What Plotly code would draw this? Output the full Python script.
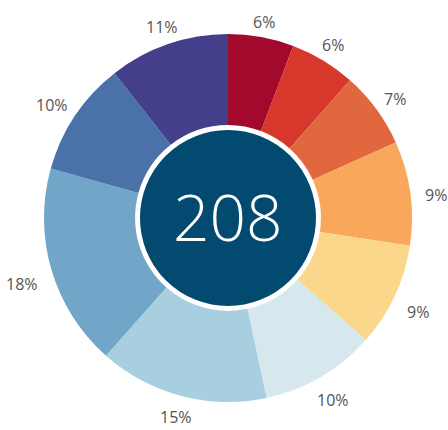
import math
import plotly.graph_objects as go

categories = ["A", "B", "C", "D", "E", "F", "G", "H", "I", "J"]
counts = [12, 12, 14, 19, 19, 21, 31, 37, 21, 22]
labels_text = ["6%", "6%", "7%", "9%", "9%", "10%", "15%", "18%", "10%", "11%"]
colors = ["#a2092c", "#d8372b", "#e1673f", "#f9a85b", "#fad78b",
          "#d6e7ee", "#a7cfdf", "#71a6c9", "#4a72a8", "#443f8a"]
total = "208"

# figure geometry
W, H = 448, 430
ML, MR, MT, MB = 44, 36, 34, 28
PLOT = 368
R_OUT = PLOT / 2

fig = go.Figure(go.Pie(
    labels=categories,
    values=counts,
    textinfo="none",
    sort=False,
    direction="clockwise",
    rotation=0,
    hole=0.505,
    marker=dict(colors=colors, line=dict(width=0)),
    showlegend=False,
    hoverinfo="skip",
))

# outside percentage labels, placed at each slice's mid-angle
tot = sum(counts)
cum = 0
for c, t in zip(counts, labels_text):
    mid = (cum + c / 2) / tot * 2 * math.pi
    cum += c
    s, co = math.sin(mid), math.cos(mid)
    w = 8 + 8.7 * len(t)
    r = R_OUT + 13 + 0.5 * w * abs(s) + 4 * max(0.0, -co)
    fig.add_annotation(text=t, xref="paper", yref="paper",
                       x=0.5 + r * s / PLOT, y=0.5 + r * co / PLOT,
                       xanchor="center", yanchor="middle", showarrow=False,
                       borderpad=0, yshift=-6 * s * s,
                       font=dict(family="Open Sans", size=16, color="#555555"))

# center disc
r_px = 89.5
fig.add_shape(type="circle", xref="paper", yref="paper",
              x0=0.5 - r_px / PLOT, x1=0.5 + r_px / PLOT,
              y0=0.5 - r_px / PLOT, y1=0.5 + r_px / PLOT,
              fillcolor="#024a6f", line=dict(color="white", width=3), layer="above")
fig.add_annotation(text=total, x=0.5, y=0.5, xref="paper", yref="paper",
                   showarrow=False, yshift=2,
                   font=dict(family="Open Sans", size=64, color="white", weight=300))

fig.update_layout(
    width=W, height=H,
    margin=dict(l=ML, r=MR, t=MT, b=MB),
    paper_bgcolor="white", plot_bgcolor="white",
)

fig.write_html("out.html", config={"displayModeBar": False},
               post_script="document.body.style.margin='0';document.body.style.overflow='hidden';")
